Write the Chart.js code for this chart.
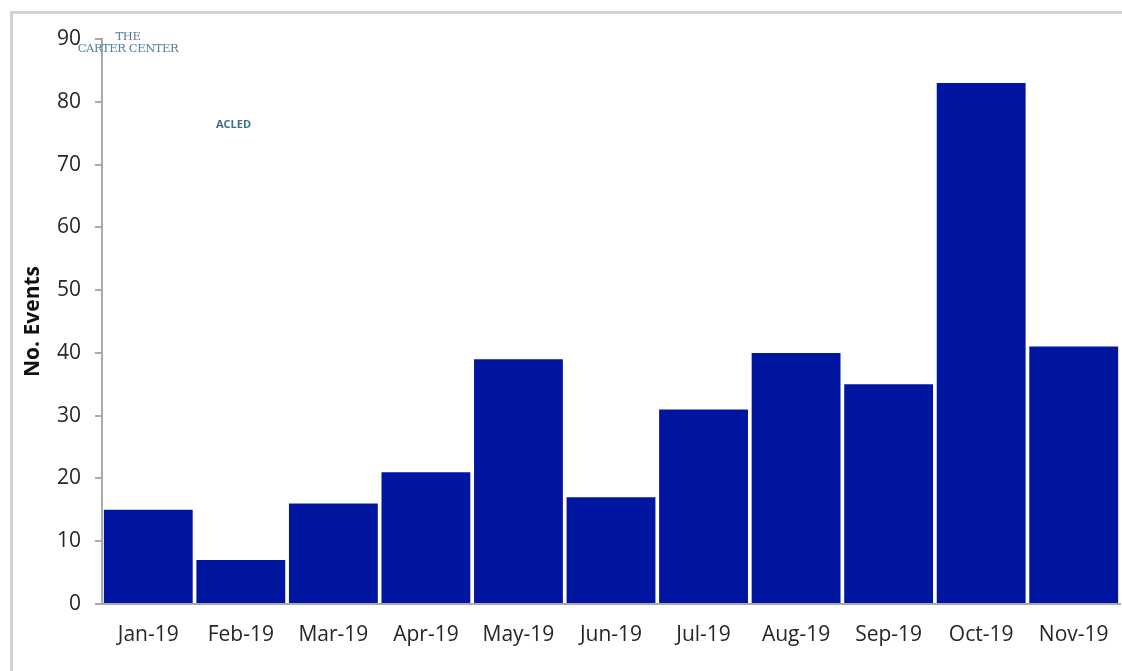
<!DOCTYPE html>
<html>
<head>
<meta charset="utf-8">
<script src="https://cdn.jsdelivr.net/npm/chart.js@4.4.0/dist/chart.umd.min.js"></script>
<style>
    html, body { margin: 0; padding: 0; background: #fff; }
    #wrap { position: relative; width: 1122px; height: 671px; overflow: hidden; }
    #frame { position: absolute; left: 10px; top: 11px; width: 1120px; height: 670px; border-top: 3px solid #d2d2d2; border-left: 3px solid #d2d2d2; }
    #chart { position: absolute; left: 0; top: 0; }
    .logo { position: absolute; font-family: "DejaVu Serif", serif; color: #4f7f99; text-align: center; }
</style>
</head>
<body>
<div id="wrap">
    <div id="frame"></div>
    <canvas id="chart" width="1122" height="671"></canvas>
    <div class="logo" style="left:76px; top:30px; width:104px; font-size:11.5px; line-height:12px; letter-spacing:-0.4px;">THE<br>CARTER CENTER</div>
    <div class="logo" style="left:216px; top:116px; font-size:11px; font-family:'Open Sans', sans-serif; font-weight:bold; color:#3f6f85;">ACLED</div>
</div>
<script>
// monthly event counts
const months = ['Jan-19', 'Feb-19', 'Mar-19', 'Apr-19', 'May-19', 'Jun-19', 'Jul-19', 'Aug-19', 'Sep-19', 'Oct-19', 'Nov-19'];
const events = [15, 7, 16, 21, 39, 17, 31, 40, 35, 83, 41];
const yTicks = [0, 10, 20, 30, 40, 50, 60, 70, 80, 90];

document.addEventListener('DOMContentLoaded', () => {
    new Chart(document.getElementById('chart'), {
        type: 'bar',
        data: {
            labels: months,
            datasets: [{
                label: 'No. Events',
                data: events,
                backgroundColor: '#0116a0',
                barPercentage: 0.96,
                categoryPercentage: 1
            }]
        },
        options: {
            responsive: false,
            animation: false,
            layout: { padding: { top: 39, right: 2, left: 0, bottom: 0 } },
            plugins: { legend: { display: false }, tooltip: { enabled: false } },
            scales: {
                x: {
                    grid: { display: false },
                    border: { display: true, color: '#aaaaaa', width: 2 },
                    ticks: { color: '#262626', font: { family: 'Open Sans', size: 21 }, padding: 10, maxRotation: 0 },
                    afterFit: (s) => { s.height = 67; }
                },
                y: {
                    min: 0,
                    max: 90,
                    afterBuildTicks: (s) => { s.ticks = yTicks.map(v => ({ value: v })); },
                    grid: { drawOnChartArea: false, drawTicks: true, tickLength: 7, color: '#aaaaaa', lineWidth: 2 },
                    border: { display: true, color: '#aaaaaa', width: 2 },
                    ticks: { color: '#262626', font: { family: 'Open Sans', size: 21 }, padding: 14 },
                    title: { display: true, text: 'No. Events', color: '#111', font: { family: 'Open Sans', size: 21, weight: 'bold' }, padding: { top: 20, bottom: 0 } },
                    afterFit: (s) => { s.width = 102; }
                }
            }
        }
    });
});
</script>
</body>
</html>
